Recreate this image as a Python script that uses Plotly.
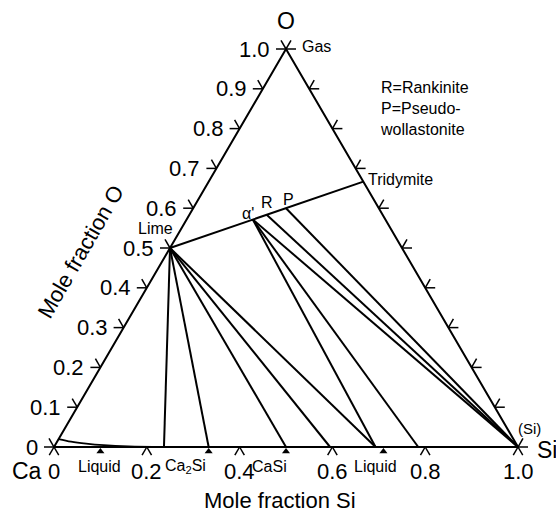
import plotly.graph_objects as go

# Ca-Si-O isothermal section.  Compositions are (Si fraction, O fraction); Ca = 1 - Si - O.

# phases on the CaO-SiO2 join
lime = (0.0, 0.5)
alpha_c2s = (1 / 7, 4 / 7)      # alpha' Ca2SiO4
rankinite = (1 / 6, 7 / 12)     # Ca3Si2O7
pseudowoll = (0.2, 0.6)         # CaSiO3
tridymite = (1 / 3, 2 / 3)      # SiO2

# Si fraction on the Ca-Si binary reached by tie lines from each oxide
lime_ties = [0.237, 1 / 3, 0.5, 0.595, 0.693]
alpha_ties = [0.693, 0.785, 1.0]
rankinite_ties = [1.0]
pseudowoll_ties = [1.0]

# liquid boundary in the Ca corner
liquid_si = [0.0, 0.03, 0.065, 0.105, 0.16, 0.237]
liquid_o = [0.02, 0.0135, 0.0085, 0.0045, 0.0015, 0.0]

# marked binary compositions
marker_si = [0.1, 1 / 3, 0.5, 0.71]
marker_labels = ["Liquid", "Ca<sub>2</sub>Si", "CaSi", "Liquid"]

# axis ticks
o_ticks = [0.0, 0.1, 0.2, 0.3, 0.4, 0.5, 0.6, 0.7, 0.8, 0.9, 1.0]
o_tick_labels = ["0", "0.1", "0.2", "0.3", "0.4", "0.5", "0.6", "0.7", "0.8", "0.9", "1.0"]
si_ticks = [0.0, 0.2, 0.4, 0.6, 0.8, 1.0]
si_tick_labels = ["0", "0.2", "0.4", "0.6", "0.8", "1.0"]

# ---- page geometry (pixels) ----
W, H = 556, 518
X0_PX, BASE_PX = 54, 447        # Ca corner
SX, SY = 464.0, 398.0           # pixels per unit along x and along O fraction
FONT = "Liberation Sans, Arial, sans-serif"


def xy(si, o):
    """Ternary (Si, O) to plane coordinates."""
    return si + o / 2.0, o


def px(dx, dy):
    """Pixel offset (right, up) to data units."""
    return dx / SX, dy / SY


lines_x, lines_y = [], []


def seg(p, q):
    lines_x.extend([p[0], q[0], None])
    lines_y.extend([p[1], q[1], None])


# triangle
ca_v, si_v, o_v = xy(0, 0), xy(1, 0), xy(0, 1)
edge_x = [ca_v[0], si_v[0], o_v[0], ca_v[0]]
edge_y = [ca_v[1], si_v[1], o_v[1], ca_v[1]]

# CaO-SiO2 join and tie lines
seg(xy(*lime), xy(*tridymite))
for src, ends in [(lime, lime_ties), (alpha_c2s, alpha_ties),
                  (rankinite, rankinite_ties), (pseudowoll, pseudowoll_ties)]:
    for s in ends:
        seg(xy(*src), xy(s, 0.0))

# tick marks: two short outward stubs along the grid directions
tick_x, tick_y = [], []
L = 10.0
C, S = 0.5 * L, 0.866 * L


def stub(p, d):
    dx, dy = px(*d)
    tick_x.extend([p[0], p[0] + dx, None])
    tick_y.extend([p[1], p[1] + dy, None])


for o in o_ticks:
    p = xy(0.0, o)                 # Ca-O edge
    stub(p, (-L, 0))
    stub(p, (-C, S))
    q = xy(1.0 - o, o)             # Si-O edge
    stub(q, (L, 0))
    stub(q, (C, S))
for s in si_ticks:
    p = xy(s, 0.0)
    stub(p, (-C * 0.95, -S * 0.95))
    stub(p, (C * 0.95, -S * 0.95))

fig = go.Figure()
fig.add_trace(go.Scatter(x=edge_x, y=edge_y, mode="lines",
                         line=dict(color="black", width=2), hoverinfo="skip"))
fig.add_trace(go.Scatter(x=lines_x, y=lines_y, mode="lines",
                         line=dict(color="black", width=2), hoverinfo="skip"))
fig.add_trace(go.Scatter(x=tick_x, y=tick_y, mode="lines",
                         line=dict(color="black", width=1.5), hoverinfo="skip"))
lq = [xy(s, o) for s, o in zip(liquid_si, liquid_o)]
fig.add_trace(go.Scatter(x=[p[0] for p in lq], y=[p[1] for p in lq], mode="lines",
                         line=dict(color="black", width=1.8, shape="spline"),
                         hoverinfo="skip"))
mk_dy = px(0, -4.5)[1]
fig.add_trace(go.Scatter(x=[xy(s, 0)[0] for s in marker_si],
                         y=[mk_dy] * len(marker_si), mode="markers",
                         marker=dict(symbol="triangle-up", size=7, color="black"),
                         hoverinfo="skip"))

ann = []


def text(x, y, t, size, xs=0, ys=0, xa="center", ya="middle", ref="data", **kw):
    ann.append(dict(x=x, y=y, text=t, showarrow=False, xref="x" if ref == "data" else "paper",
                    yref="y" if ref == "data" else "paper", xshift=xs, yshift=ys,
                    xanchor=xa, yanchor=ya, font=dict(family=FONT, size=size, color="black"),
                    **kw))


for o, lab in zip(o_ticks, o_tick_labels):
    p = xy(0.0, o)
    text(p[0], p[1], lab, 22, xs=-14, xa="right")
for s, lab in zip(si_ticks, si_tick_labels):
    p = xy(s, 0.0)
    text(p[0], p[1], lab, 22, ys=-24)

text(ca_v[0], ca_v[1], "Ca", 23, xs=-27, ys=-24)
text(si_v[0], si_v[1], "Si", 23, xs=17, ys=-3, xa="left")
text(o_v[0], o_v[1], "O", 23, ys=28)
text(si_v[0], si_v[1], "(Si)", 15, xs=11, ys=19)

label_shift = [-1, -23, -17, -8]
for s, lab, sh in zip(marker_si, marker_labels, label_shift):
    text(xy(s, 0)[0], 0, lab, 16, xs=sh, ys=-19)

text(o_v[0], o_v[1], "Gas", 16, xs=14, ys=3, xa="left")
text(*xy(*tridymite), "Tridymite", 16, xs=3, ys=2, xa="left")
text(*xy(*lime), "Lime", 16, xs=-15, ys=20)
text(*xy(*alpha_c2s), "α'", 16, xs=-5, ys=6)
text(*xy(*rankinite), "R", 16, xs=0, ys=12)
text(*xy(*pseudowoll), "P", 16, xs=2, ys=9)

text(378 / W, 1 - 108 / H, "R=Rankinite<br>P=Pseudo-<br>wollastonite", 16,
     xa="left", ref="paper", align="left")

text(280 / W, 1 - 500 / H, "Mole fraction Si", 22, ref="paper")
text(80 / W, 1 - 252 / H, "Mole fraction O", 22, ref="paper", textangle=-60)

fig.update_layout(
    width=W, height=H, margin=dict(l=0, r=0, t=0, b=0),
    paper_bgcolor="white", plot_bgcolor="white", showlegend=False,
    xaxis=dict(range=[-X0_PX / SX, (W - X0_PX) / SX], visible=False, fixedrange=True),
    yaxis=dict(range=[-(H - BASE_PX) / SY, BASE_PX / SY], visible=False, fixedrange=True),
    annotations=ann,
)

fig.write_html("out.html")
